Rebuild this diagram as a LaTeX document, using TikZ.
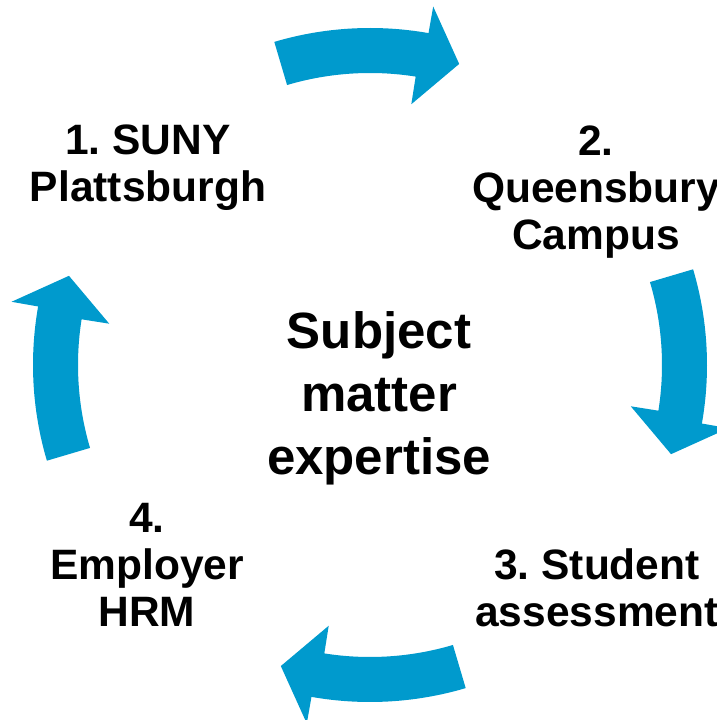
\documentclass[tikz,border=0pt]{standalone}
\usepackage{fontspec}
\setmainfont{Liberation Sans}
\usetikzlibrary{calc}
\definecolor{cyc}{HTML}{009ACD}
\tikzset{l/.style={font=\fontsize{42.5}{47}\selectfont\bfseries\frenchspacing, align=center, inner sep=0pt, anchor=base}}
\tikzset{m/.style={font=\fontsize{51}{63}\selectfont\bfseries, align=center, inner sep=0pt, anchor=base}}
\tikzset{ar/.style={fill=cyc, draw=none}}

\begin{document}
\begin{tikzpicture}[x=1pt,y=1pt]
        \useasboundingbox (0,0) rectangle (716,720);
        \coordinate (C) at (370,355);
        % four curved block arrows, clockwise
        \foreach \c in {90,0,-90,180}
          \fill[ar] ($(C)+(\c+16.5:337)$) arc[start angle=\c+16.5, end angle=\c-10, radius=337]
            -- ($(C)+(\c-10:364)$) -- ($(C)+(\c-16.5:314)$) -- ($(C)+(\c-9:264)$)
            -- ($(C)+(\c-9:292)$) arc[start angle=\c-9, end angle=\c+16.5, radius=292] -- cycle;
        % base = baseline of the last line
        \node[m] (hub) at (379,245) {Subject\\matter\\expertise};
        \node[l] (s1) at (148,518) {1. SUNY\\Plattsburgh};
        \node[l] (s2) at (596,470) {2.\\Queensbury\\Campus};
        \node[l] (s3) at (597,93) {3. Student\\assessment};
        \node[l] (s4) at (147,93) {4.\\Employer\\HRM};
      \end{tikzpicture}
\end{document}
